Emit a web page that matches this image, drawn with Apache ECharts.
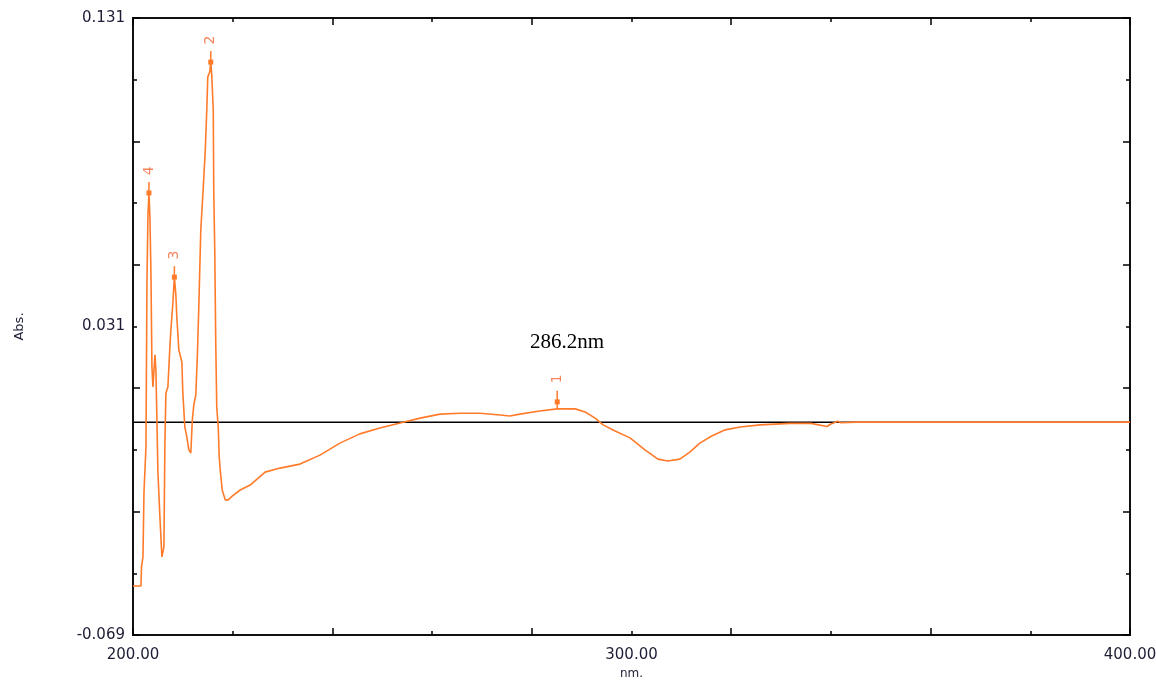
<!DOCTYPE html>
<html>
<head>
<meta charset="utf-8">
<script src="https://cdn.jsdelivr.net/npm/echarts@6/dist/echarts.min.js"></script>
<style>
html,body{margin:0;padding:0;background:#fff;}
#chart{width:1156px;height:681px;}
</style>
</head>
<body>
<div id="chart"></div>
<script>
// Wavelength (nm) and absorbance
const wavelength = [
  200.0, 201.6, 201.7, 202.0, 202.2, 202.6, 202.8, 203.0, 203.2, 203.4,
  203.6, 203.8, 204.0, 204.4, 204.6, 205.0, 205.4, 205.8, 206.0, 206.2,
  206.4, 206.6, 207.0, 207.4, 207.6, 208.0, 208.3, 208.6, 208.8, 209.2,
  209.6, 209.8, 210.0, 210.4, 210.8, 211.2, 211.6, 211.9, 212.2, 212.6,
  212.9, 213.2, 213.6, 214.1, 214.5, 214.8, 215.0, 215.4, 215.6, 215.8,
  216.1, 216.2, 216.4, 216.6, 216.8, 217.1, 217.3, 217.5, 217.9, 218.5,
  219.1, 219.9, 221.5, 223.5, 226.5, 229.5, 233.5, 237.5, 241.5, 245.5,
  249.5, 253.6, 257.6, 261.6, 265.6, 269.6, 273.6, 275.6, 277.6, 281.6,
  285.1, 288.7, 290.7, 292.7, 294.3, 296.7, 299.7, 302.7, 305.3, 307.3,
  309.7, 311.7, 313.7, 316.1, 318.8, 321.8, 325.8, 331.8, 336.0, 339.2,
  340.0, 341.4, 342.0, 345.0, 400.0
];
const absorbance = [
  -0.0531, -0.0531, -0.0470, -0.0437, -0.0230, -0.0080, 0.0454, 0.0671, 0.0743, 0.0662,
  0.0483, 0.0179, 0.0114, 0.0218, 0.0169, -0.0162, -0.0308, -0.0437, -0.0437, -0.0405,
  -0.0068, 0.0094, 0.0114, 0.0244, 0.0299, 0.0386, 0.0470, 0.0412, 0.0338, 0.0234,
  0.0234, 0.0195, 0.0094, -0.0016, -0.0048, -0.0090, -0.0100, 0.0007, 0.0056, 0.0088,
  0.0211, 0.0373, 0.0623, 0.0762, 0.0882, 0.1012, 0.1119, 0.1135, 0.1167, 0.1125,
  0.1012, 0.0752, 0.0558, 0.0257, 0.0049, -0.0016, -0.0113, -0.0155, -0.0220, -0.0252,
  -0.0252, -0.0240, -0.0220, -0.0204, -0.0162, -0.0149, -0.0136, -0.0107, -0.0068, -0.0038,
  -0.0019, -0.0003, 0.0013, 0.0026, 0.0029, 0.0029, 0.0023, 0.0020, 0.0026, 0.0036,
  0.0043, 0.0043, 0.0033, 0.0013, -0.0009, -0.0029, -0.0051, -0.0090, -0.0120, -0.0126,
  -0.0120, -0.0097, -0.0068, -0.0045, -0.0025, -0.0016, -0.0009, -0.0004, -0.0004, -0.0014,
  -0.0006, 0.0003, -0.0002, 0.0000, 0.0000
];
// Peak picks
const peakWavelength = [285.1, 215.6, 208.3, 203.2];
const peakAbsorbance = [0.0043, 0.1167, 0.0470, 0.0743];
const peakLabels = ['1', '2', '3', '4'];
// Zero baseline
const baselineX = [200, 400];
const baselineY = [0, 0];
// Axis ranges / tick labels
const xMin = 200, xMax = 400;
const yMin = -0.069, yMax = 0.131;
const annotationText = '286.2nm';

const curve = wavelength.map((w, i) => [w, absorbance[i]]);
const baseline = baselineX.map((w, i) => [w, baselineY[i]]);
const peaks = peakWavelength.map((w, i) => [w, peakAbsorbance[i], peakLabels[i]]);

const AXIS_FONT = '"DejaVu Sans", Verdana, sans-serif';
const LABEL_COLOR = '#1d1d35';
const ORANGE = '#ff7b2a';

function tickAxisX(pos, interval, len) {
  return {
    type: 'value', position: pos, min: xMin, max: xMax, interval: interval,
    axisLine: {show: false, onZero: false}, splitLine: {show: false}, axisLabel: {show: false},
    axisTick: {show: true, inside: true, length: len, lineStyle: {color: '#000', width: 1.5}}
  };
}
function tickAxisY(pos, interval, len) {
  return {
    type: 'value', position: pos, min: yMin, max: yMax, interval: interval,
    axisLine: {show: false, onZero: false}, splitLine: {show: false}, axisLabel: {show: false},
    axisTick: {show: true, inside: true, length: len, lineStyle: {color: '#000', width: 1.5}}
  };
}

const chart = echarts.init(document.getElementById('chart'), null, {renderer: 'canvas'});
chart.setOption({
  animation: false,
  backgroundColor: '#fff',
  grid: {left: 133, right: 26, top: 18, bottom: 46, show: true, borderColor: '#111', borderWidth: 2,
    backgroundColor: 'transparent', containLabel: false, outerBoundsMode: 'none'},
  xAxis: [
    {
      type: 'value', position: 'bottom', min: xMin, max: xMax, interval: 100,
      name: 'nm.', nameLocation: 'middle', nameGap: 32,
      nameTextStyle: {fontFamily: AXIS_FONT, fontSize: 12, color: LABEL_COLOR},
      axisLine: {show: false, onZero: false}, axisTick: {show: false}, splitLine: {show: false},
      axisLabel: {margin: 13, fontFamily: AXIS_FONT, fontSize: 15, color: LABEL_COLOR,
        formatter: v => v.toFixed(2), showMinLabel: true, showMaxLabel: true}
    },
    tickAxisX('bottom', 40, 7),
    tickAxisX('bottom', 20, 4),
    tickAxisX('top', 40, 7),
    tickAxisX('top', 20, 4)
  ],
  yAxis: [
    {
      type: 'value', position: 'left', min: yMin, max: yMax, interval: 0.1,
      name: 'Abs.', nameLocation: 'middle', nameGap: 107, nameRotate: 90,
      nameTextStyle: {fontFamily: AXIS_FONT, fontSize: 13, color: LABEL_COLOR},
      axisLine: {show: false, onZero: false}, axisTick: {show: false}, splitLine: {show: false},
      axisLabel: {margin: 8, fontFamily: AXIS_FONT, fontSize: 15, color: LABEL_COLOR,
        formatter: v => v.toFixed(3), showMinLabel: true, showMaxLabel: true}
    },
    tickAxisY('left', 0.04, 7),
    tickAxisY('left', 0.02, 4),
    tickAxisY('right', 0.04, 7),
    tickAxisY('right', 0.02, 4)
  ],
  graphic: [
    {
      type: 'text', left: 530, top: 332, z: 10,
      style: {text: annotationText, font: '21px "Liberation Serif", "Times New Roman", serif', fill: '#000'}
    }
  ],
  series: [
    {
      type: 'line', data: baseline, xAxisIndex: 0, yAxisIndex: 0, symbol: 'none', z: 1,
      lineStyle: {color: '#000', width: 1.5}, silent: true
    },
    {
      type: 'line', data: curve, xAxisIndex: 0, yAxisIndex: 0, symbol: 'none', z: 2,
      lineStyle: {color: ORANGE, width: 1.6}, silent: true
    },
    {
      type: 'custom', xAxisIndex: 0, yAxisIndex: 0, z: 3, data: peaks,
      renderItem: function (params, api) {
        const p = api.coord([api.value(0), api.value(1)]);
        const isFirst = params.dataIndex === 0;
        const lift = isFirst ? 7 : 0;
        const stemTop = p[1] - (isFirst ? 18 : 11);
        const labelY = p[1] - (isFirst ? 30 : 22);
        return {
          type: 'group',
          children: [
            {type: 'line', shape: {x1: p[0], y1: p[1], x2: p[0], y2: stemTop},
             style: {stroke: ORANGE, lineWidth: 1.5}},
            {type: 'rect', shape: {x: p[0] - 2.5, y: p[1] - lift - 2.5, width: 5, height: 5},
             style: {fill: ORANGE}},
            {type: 'text', x: p[0], y: labelY, rotation: Math.PI / 2,
             style: {text: peakLabels[params.dataIndex], fill: '#f3845c',
               font: '14px "DejaVu Sans", Verdana, sans-serif', align: 'center', verticalAlign: 'middle'}}
          ]
        };
      }
    }
  ]
});
</script>
</body>
</html>
